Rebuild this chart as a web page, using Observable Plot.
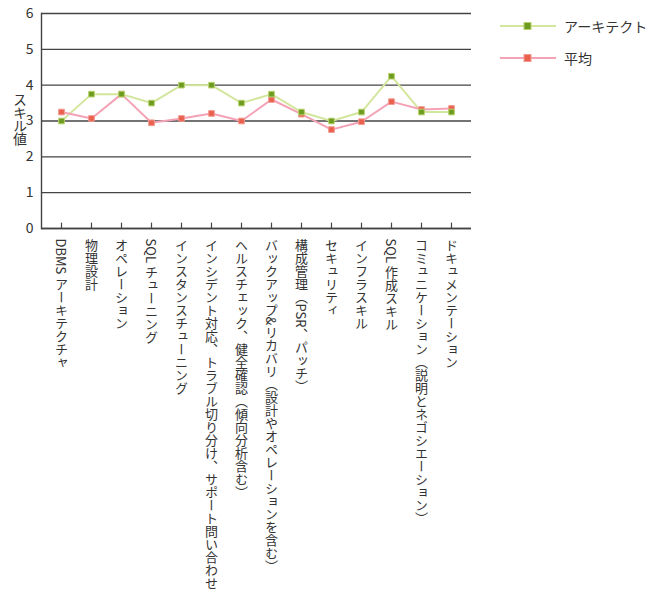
<!DOCTYPE html>
<html>
<head>
<meta charset="utf-8">
<script src="https://cdn.jsdelivr.net/npm/d3@7"></script>
<script src="https://cdn.jsdelivr.net/npm/@observablehq/plot@0.6"></script>
<style>
  body { margin: 0; background: #fff; font-family: "Noto Sans CJK JP", "Noto Sans", sans-serif; }
  #wrap { position: relative; width: 652px; height: 600px; }
  #ylabel { position: absolute; left: 10px; top: 93px; writing-mode: vertical-rl; text-orientation: upright; font-size: 14px; color: #333; letter-spacing: -1px; }
  .leg { position: absolute; left: 500px; display: flex; align-items: center; font-size: 14px; color: #333; }
  .leg svg { margin-right: 8px; }
</style>
</head>
<body>
<div id="wrap"></div>
<script>
const categories = [
  "DBMS アーキテクチャ",
  "物理設計",
  "オペレーション",
  "SQL チューニング",
  "インスタンスチューニング",
  "インシデント対応、トラブル切り分け、サポート問い合わせ",
  "ヘルスチェック、健全確認（傾向分析含む）",
  "バックアップ&リカバリ（設計やオペレーションを含む）",
  "構成管理（PSR、パッチ）",
  "セキュリティ",
  "インフラスキル",
  "SQL 作成スキル",
  "コミュニケーション（説明とネゴシエーション）",
  "ドキュメンテーション"
];
const architect = [3.0, 3.75, 3.75, 3.5, 4.0, 4.0, 3.5, 3.75, 3.25, 3.0, 3.25, 4.25, 3.25, 3.25];
const average   = [3.25, 3.07, 3.75, 2.95, 3.07, 3.21, 3.0, 3.6, 3.19, 2.76, 2.98, 3.54, 3.32, 3.35];
const yTicks = [0, 1, 2, 3, 4, 5, 6];
const seriesNames = ["アーキテクト", "平均"];
const yLabel = "スキル値";

const archData = categories.map((c, i) => ({c, v: architect[i]}));
const avgData = categories.map((c, i) => ({c, v: average[i]}));

const green = {line: "#d3e69d", dot: "#6c9b1f", edge: "#b9d36f"};
const pink = {line: "#f4a2b6", dot: "#e9604f", edge: "#f29a8f"};

const chart = Plot.plot({
  width: 652,
  height: 600,
  marginTop: 13,
  marginLeft: 41,
  marginRight: 181,
  marginBottom: 372,
  style: {fontFamily: '"Noto Sans CJK JP", sans-serif', color: "#333", background: "white"},
  x: {type: "point", domain: categories, padding: 0.5, axis: null},
  y: {domain: [0, 6], ticks: yTicks, axis: null},
  marks: [
    Plot.gridY(yTicks, {stroke: "#444", strokeOpacity: 1, strokeWidth: 1.4}),
    Plot.axisY(yTicks, {tickSize: 0, tickPadding: 8, fontSize: 14, label: null, fill: "#333"}),
    Plot.frame({anchor: "left", stroke: "#444", strokeWidth: 1.4}),
    Plot.ruleY([0], {stroke: "#444", strokeWidth: 1.4}),
    Plot.ruleX(categories, {y1: 0, y2: 0.15, stroke: "#444", strokeWidth: 1.2}),
    Plot.text(categories, {x: d => d, frameAnchor: "bottom", dy: 10, textAnchor: "start", fontSize: 13, fill: "#333"}),
    Plot.line(archData, {x: "c", y: "v", stroke: green.line, strokeWidth: 2}),
    Plot.line(avgData, {x: "c", y: "v", stroke: pink.line, strokeWidth: 2}),
    Plot.dot(avgData, {x: "c", y: "v", symbol: "square", r: 3.2, fill: pink.dot, stroke: pink.edge, strokeWidth: 1}),
    Plot.dot(archData, {x: "c", y: "v", symbol: "square", r: 3.2, fill: green.dot, stroke: green.edge, strokeWidth: 1})
  ]
});

// vertical writing for category labels
d3.select(chart).selectAll('g[aria-label="text"] text')
  .attr("dy", null)
  .style("writing-mode", "vertical-rl")
  .style("text-orientation", "mixed");

const wrap = document.getElementById("wrap");
wrap.appendChild(chart);

const yl = document.createElement("div");
yl.id = "ylabel";
yl.textContent = yLabel;
wrap.appendChild(yl);

const legColors = [green, pink];
seriesNames.forEach((name, i) => {
  const row = document.createElement("div");
  row.className = "leg";
  row.style.top = (16 + i * 32) + "px";
  const c = legColors[i];
  row.innerHTML = `<svg width="56" height="16"><line x1="0" x2="56" y1="8" y2="8" stroke="${c.line}" stroke-width="2"/><rect x="24" y="4.5" width="7" height="7" fill="${c.dot}" stroke="${c.edge}" stroke-width="1"/></svg><span>${name}</span>`;
  wrap.appendChild(row);
});
</script>
</body>
</html>
